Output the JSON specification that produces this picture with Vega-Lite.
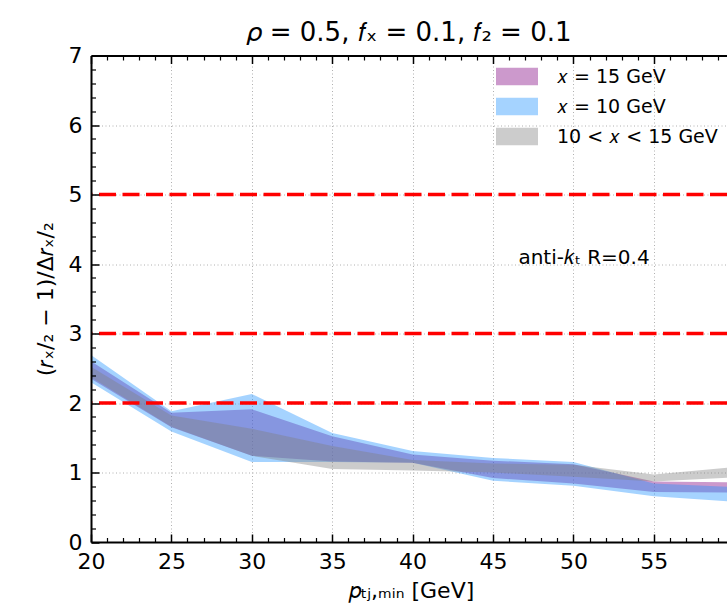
{
  "$schema": "https://vega.github.io/schema/vega-lite/v6.json",
  "width": 636,
  "height": 486.5,
  "autosize": {"type": "none"},
  "padding": {"left": 91, "top": 55.5, "right": 0, "bottom": 67},
  "background": "white",
  "config": {
    "view": {"stroke": null},
    "font": "DejaVu Sans",
    "axis": {"labelFont": "DejaVu Sans", "titleFont": "DejaVu Sans", "labelColor": "black", "titleColor": "black", "tickColor": "black", "domainColor": "black"},
    "legend": {"labelFont": "DejaVu Sans"}
  },
  "title": {"text": "𝜌 = 0.5, 𝑓ₓ = 0.1, 𝑓₂ = 0.1", "fontSize": 26, "fontWeight": "normal", "font": "DejaVu Sans", "color": "black", "baseline": "alphabetic", "offset": 11.5, "dy": 34, "anchor": "middle", "frame": "group"},
  "datasets": {
    "bands": [
      {"pt": 20, "series": "𝑥 = 15 GeV", "lo": 2.35, "hi": 2.60},
      {"pt": 25, "series": "𝑥 = 15 GeV", "lo": 1.65, "hi": 1.86},
      {"pt": 30, "series": "𝑥 = 15 GeV", "lo": 1.24, "hi": 1.91},
      {"pt": 35, "series": "𝑥 = 15 GeV", "lo": 1.16, "hi": 1.52},
      {"pt": 40, "series": "𝑥 = 15 GeV", "lo": 1.14, "hi": 1.26},
      {"pt": 45, "series": "𝑥 = 15 GeV", "lo": 0.92, "hi": 1.17},
      {"pt": 50, "series": "𝑥 = 15 GeV", "lo": 0.84, "hi": 1.12},
      {"pt": 55, "series": "𝑥 = 15 GeV", "lo": 0.72, "hi": 0.87},
      {"pt": 60, "series": "𝑥 = 15 GeV", "lo": 0.71, "hi": 0.86},
      {"pt": 20, "series": "𝑥 = 10 GeV", "lo": 2.30, "hi": 2.69},
      {"pt": 25, "series": "𝑥 = 10 GeV", "lo": 1.59, "hi": 1.88},
      {"pt": 30, "series": "𝑥 = 10 GeV", "lo": 1.15, "hi": 2.13},
      {"pt": 35, "series": "𝑥 = 10 GeV", "lo": 1.15, "hi": 1.57},
      {"pt": 40, "series": "𝑥 = 10 GeV", "lo": 1.14, "hi": 1.31},
      {"pt": 45, "series": "𝑥 = 10 GeV", "lo": 0.88, "hi": 1.21},
      {"pt": 50, "series": "𝑥 = 10 GeV", "lo": 0.81, "hi": 1.15},
      {"pt": 55, "series": "𝑥 = 10 GeV", "lo": 0.66, "hi": 0.84},
      {"pt": 60, "series": "𝑥 = 10 GeV", "lo": 0.58, "hi": 0.79},
      {"pt": 20, "series": "10 < 𝑥 < 15 GeV", "lo": 2.37, "hi": 2.52},
      {"pt": 25, "series": "10 < 𝑥 < 15 GeV", "lo": 1.66, "hi": 1.82},
      {"pt": 30, "series": "10 < 𝑥 < 15 GeV", "lo": 1.24, "hi": 1.63},
      {"pt": 35, "series": "10 < 𝑥 < 15 GeV", "lo": 1.05, "hi": 1.38},
      {"pt": 40, "series": "10 < 𝑥 < 15 GeV", "lo": 1.03, "hi": 1.18},
      {"pt": 45, "series": "10 < 𝑥 < 15 GeV", "lo": 1.00, "hi": 1.13},
      {"pt": 50, "series": "10 < 𝑥 < 15 GeV", "lo": 0.94, "hi": 1.11},
      {"pt": 55, "series": "10 < 𝑥 < 15 GeV", "lo": 0.87, "hi": 0.97},
      {"pt": 60, "series": "10 < 𝑥 < 15 GeV", "lo": 0.93, "hi": 1.08}
    ],
    "thresholds": [{"val": 2}, {"val": 3}, {"val": 5}],
    "notes": [{"pt": 50.66, "val": 4.09, "label": "anti-𝑘ₜ R=0.4"}]
  },
  "layer": [
    {
      "data": {"name": "bands"},
      "mark": {"type": "point", "opacity": 0},
      "encoding": {
        "x": {"field": "pt", "type": "quantitative", "scale": {"domain": [20, 59.55], "nice": false, "zero": false},
          "axis": {"orient": "bottom", "grid": true, "labels": false, "ticks": false, "domain": false, "title": null, "values": [25, 30, 35, 40, 45, 50, 55], "gridColor": "#b0b0b0", "gridDash": [1, 2.5], "gridWidth": 1, "zindex": 0}},
        "y": {"field": "lo", "type": "quantitative", "scale": {"domain": [0, 7], "nice": false, "zero": false},
          "axis": {"orient": "left", "grid": true, "labels": false, "ticks": false, "domain": false, "title": null, "values": [1, 2, 3, 4, 5, 6], "gridColor": "#b0b0b0", "gridDash": [1, 2.5], "gridWidth": 1, "zindex": 0}}
      }
    },
    {
      "data": {"name": "bands"},
      "transform": [{"filter": "datum.series === '𝑥 = 15 GeV'"}],
      "mark": {"type": "area", "opacity": 0.4, "clip": true},
      "encoding": {
        "x": {"field": "pt", "type": "quantitative", "scale": {"domain": [20, 59.55], "nice": false, "zero": false}, "axis": null},
        "y": {"field": "lo", "type": "quantitative", "scale": {"domain": [0, 7], "nice": false, "zero": false}, "axis": null},
        "y2": {"field": "hi"},
        "color": {"field": "series", "type": "nominal",
          "scale": {"domain": ["𝑥 = 15 GeV", "𝑥 = 10 GeV", "10 < 𝑥 < 15 GeV"], "range": ["#800080", "#1e90ff", "#808080"]},
          "legend": {"orient": "none", "legendX": 405, "legendY": 6, "title": null, "direction": "vertical", "symbolType": "M-1,-0.42H1V0.42H-1Z", "symbolSize": 1764, "symbolOpacity": 0.4, "symbolStrokeWidth": 0, "labelFontSize": 19, "labelOffset": 19, "clipHeight": 30, "rowPadding": 0, "padding": 0, "labelColor": "black", "labelLimit": 400}}
      }
    },
    {
      "data": {"name": "bands"},
      "transform": [{"filter": "datum.series === '𝑥 = 10 GeV'"}],
      "mark": {"type": "area", "opacity": 0.4, "clip": true},
      "encoding": {
        "x": {"field": "pt", "type": "quantitative", "scale": {"domain": [20, 59.55], "nice": false, "zero": false}, "axis": null},
        "y": {"field": "lo", "type": "quantitative", "scale": {"domain": [0, 7], "nice": false, "zero": false}, "axis": null},
        "y2": {"field": "hi"},
        "color": {"field": "series", "type": "nominal",
          "scale": {"domain": ["𝑥 = 15 GeV", "𝑥 = 10 GeV", "10 < 𝑥 < 15 GeV"], "range": ["#800080", "#1e90ff", "#808080"]},
          "legend": {"orient": "none", "legendX": 405, "legendY": 6, "title": null, "direction": "vertical", "symbolType": "M-1,-0.42H1V0.42H-1Z", "symbolSize": 1764, "symbolOpacity": 0.4, "symbolStrokeWidth": 0, "labelFontSize": 19, "labelOffset": 19, "clipHeight": 30, "rowPadding": 0, "padding": 0, "labelColor": "black", "labelLimit": 400}}
      }
    },
    {
      "data": {"name": "bands"},
      "transform": [{"filter": "datum.series === '10 < 𝑥 < 15 GeV'"}],
      "mark": {"type": "area", "opacity": 0.4, "clip": true},
      "encoding": {
        "x": {"field": "pt", "type": "quantitative", "scale": {"domain": [20, 59.55], "nice": false, "zero": false}, "axis": null},
        "y": {"field": "lo", "type": "quantitative", "scale": {"domain": [0, 7], "nice": false, "zero": false}, "axis": null},
        "y2": {"field": "hi"},
        "color": {"field": "series", "type": "nominal",
          "scale": {"domain": ["𝑥 = 15 GeV", "𝑥 = 10 GeV", "10 < 𝑥 < 15 GeV"], "range": ["#800080", "#1e90ff", "#808080"]},
          "legend": {"orient": "none", "legendX": 405, "legendY": 6, "title": null, "direction": "vertical", "symbolType": "M-1,-0.42H1V0.42H-1Z", "symbolSize": 1764, "symbolOpacity": 0.4, "symbolStrokeWidth": 0, "labelFontSize": 19, "labelOffset": 19, "clipHeight": 30, "rowPadding": 0, "padding": 0, "labelColor": "black", "labelLimit": 400}}
      }
    },
    {
      "data": {"name": "thresholds"},
      "mark": {"type": "rule", "color": "#ff0000", "strokeWidth": 3.4, "strokeDash": [17, 6.5]},
      "encoding": {
        "y": {"field": "val", "type": "quantitative", "scale": {"domain": [0, 7], "nice": false, "zero": false}, "axis": null}
      }
    },
    {
      "data": {"name": "notes"},
      "mark": {"type": "text", "fontSize": 20, "font": "DejaVu Sans", "color": "black", "align": "center", "baseline": "middle"},
      "encoding": {
        "x": {"field": "pt", "type": "quantitative", "scale": {"domain": [20, 59.55], "nice": false, "zero": false}, "axis": null},
        "y": {"field": "val", "type": "quantitative", "scale": {"domain": [0, 7], "nice": false, "zero": false}, "axis": null},
        "text": {"field": "label"}
      }
    },
    {
      "data": {"name": "bands"},
      "mark": {"type": "point", "opacity": 0},
      "encoding": {
        "x": {"field": "pt", "type": "quantitative", "scale": {"domain": [20, 59.55], "nice": false, "zero": false},
          "axis": {"orient": "bottom", "values": [20, 25, 30, 35, 40, 45, 50, 55], "format": "d", "labels": true, "ticks": false, "tickSize": 0, "domain": true, "domainWidth": 2, "grid": false, "labelFontSize": 22, "labelPadding": 9, "labelFlush": false, "labelOverlap": false,
            "title": "𝑝ₜⱼ,ₘᵢₙ [GeV]", "titleFontSize": 22, "titleFontWeight": "normal", "titleX": 320, "titleY": 55, "titleAlign": "center", "titleBaseline": "alphabetic", "zindex": 1}},
        "y": {"field": "lo", "type": "quantitative", "scale": {"domain": [0, 7], "nice": false, "zero": false},
          "axis": {"orient": "left", "values": [0, 1, 2, 3, 4, 5, 6, 7], "format": "d", "labels": true, "ticks": false, "tickSize": 0, "domain": true, "domainWidth": 2, "grid": false, "labelFontSize": 22, "labelPadding": 9, "labelFlush": false, "labelOverlap": false,
            "title": "(𝑟ₓ/₂ − 1)/Δ𝑟ₓ/₂", "titleFontSize": 22, "titleFontWeight": "normal", "titleX": -46, "titleY": 243.25, "titleAngle": 270, "titleAlign": "center", "titleBaseline": "middle", "zindex": 1}}
      }
    },
    {
      "data": {"name": "bands"},
      "mark": {"type": "point", "opacity": 0},
      "encoding": {
        "x": {"field": "pt", "type": "quantitative", "scale": {"domain": [20, 59.55], "nice": false, "zero": false},
          "axis": {"orient": "bottom", "values": [20, 25, 30, 35, 40, 45, 50, 55], "labels": false, "ticks": true, "tickSize": -8, "tickWidth": 1.5, "domain": false, "grid": false, "title": null, "zindex": 1}},
        "y": {"field": "lo", "type": "quantitative", "scale": {"domain": [0, 7], "nice": false, "zero": false},
          "axis": {"orient": "left", "values": [0, 1, 2, 3, 4, 5, 6, 7], "labels": false, "ticks": true, "tickSize": -8, "tickWidth": 1.5, "domain": false, "grid": false, "title": null, "zindex": 1}}
      }
    },
    {
      "data": {"name": "bands"},
      "mark": {"type": "point", "opacity": 0},
      "encoding": {
        "x": {"field": "pt", "type": "quantitative", "scale": {"domain": [20, 59.55], "nice": false, "zero": false},
          "axis": {"orient": "bottom", "values": [21, 22, 23, 24, 26, 27, 28, 29, 31, 32, 33, 34, 36, 37, 38, 39, 41, 42, 43, 44, 46, 47, 48, 49, 51, 52, 53, 54, 56, 57, 58, 59], "labels": false, "ticks": true, "tickSize": -4.5, "tickWidth": 1.2, "domain": false, "grid": false, "title": null, "zindex": 1}},
        "y": {"field": "lo", "type": "quantitative", "scale": {"domain": [0, 7], "nice": false, "zero": false},
          "axis": {"orient": "left", "values": [0.2, 0.4, 0.6, 0.8, 1.2, 1.4, 1.6, 1.8, 2.2, 2.4, 2.6, 2.8, 3.2, 3.4, 3.6, 3.8, 4.2, 4.4, 4.6, 4.8, 5.2, 5.4, 5.6, 5.8, 6.2, 6.4, 6.6, 6.8], "labels": false, "ticks": true, "tickSize": -4.5, "tickWidth": 1.2, "domain": false, "grid": false, "title": null, "zindex": 1}}
      }
    },
    {
      "data": {"name": "bands"},
      "mark": {"type": "point", "opacity": 0},
      "encoding": {
        "x": {"field": "pt", "type": "quantitative", "scale": {"domain": [20, 59.55], "nice": false, "zero": false},
          "axis": {"orient": "top", "values": [20, 25, 30, 35, 40, 45, 50, 55], "labels": false, "ticks": true, "tickSize": -8, "tickWidth": 1.5, "domain": true, "domainWidth": 2, "grid": false, "title": null, "zindex": 1}}
      }
    },
    {
      "data": {"name": "bands"},
      "mark": {"type": "point", "opacity": 0},
      "encoding": {
        "x": {"field": "pt", "type": "quantitative", "scale": {"domain": [20, 59.55], "nice": false, "zero": false},
          "axis": {"orient": "top", "values": [21, 22, 23, 24, 26, 27, 28, 29, 31, 32, 33, 34, 36, 37, 38, 39, 41, 42, 43, 44, 46, 47, 48, 49, 51, 52, 53, 54, 56, 57, 58, 59], "labels": false, "ticks": true, "tickSize": -4.5, "tickWidth": 1.2, "domain": false, "grid": false, "title": null, "zindex": 1}}
      }
    }
  ],
  "resolve": {"axis": {"x": "independent", "y": "independent"}}
}
